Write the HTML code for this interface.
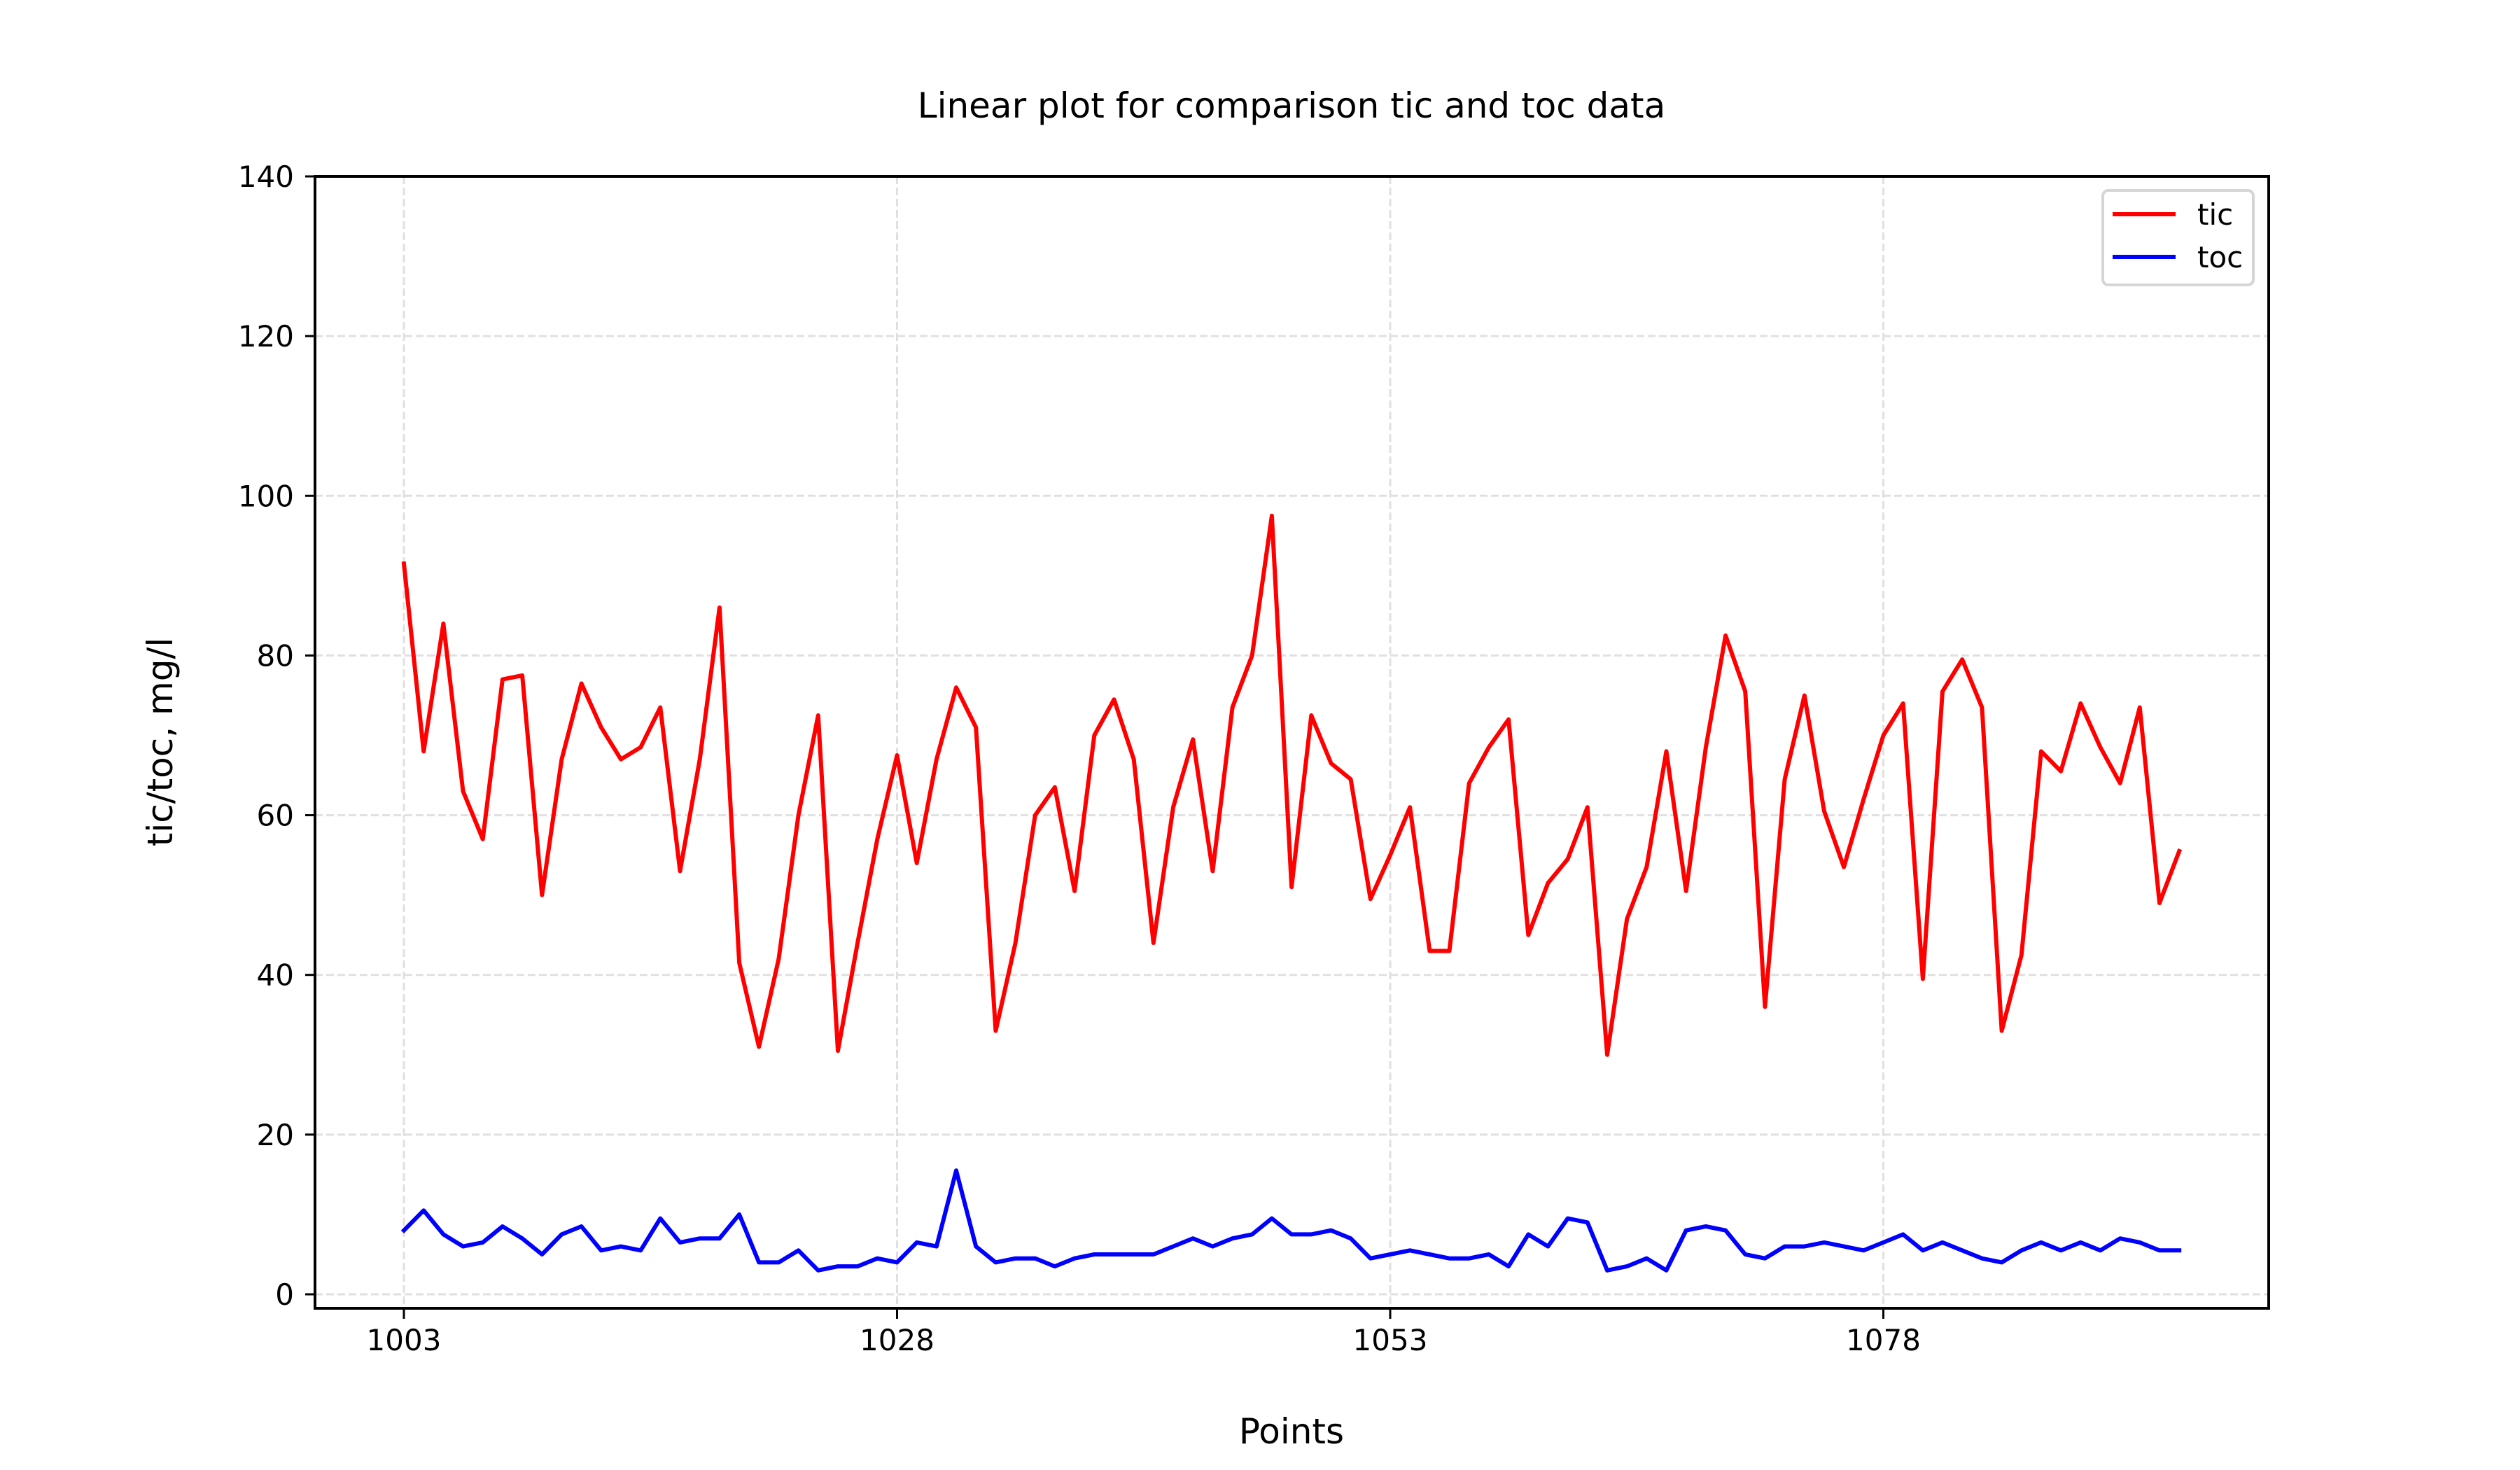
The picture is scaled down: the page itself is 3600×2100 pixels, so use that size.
<!DOCTYPE html>
<html><head><meta charset="utf-8"><style>
html,body{margin:0;padding:0;background:#fff}
svg{display:block;font-family:"DejaVu Sans","Liberation Sans",sans-serif}
</style></head><body>
<svg id="chart" width="3600" height="2100" viewBox="0 0 3600 2100">
<rect width="3600" height="2100" fill="#fff"/>
<text x="1845" y="168" font-size="50" text-anchor="middle">Linear plot for comparison tic and toc data</text>
<g id="grid"></g>
<g id="ticks"></g>
<g id="series"></g>
<rect x="450" y="252" width="2791" height="1617" fill="none" stroke="#000" stroke-width="4"/>
<text x="1845" y="2062" font-size="50" text-anchor="middle">Points</text>
<text transform="translate(246,1060) rotate(-90)" font-size="50" text-anchor="middle">tic/toc, mg/l</text>
<g>
<rect x="3004" y="272" width="215" height="135" rx="8" fill="#fff" fill-opacity="0.8" stroke="#d5d5d5" stroke-width="4"/>
<line x1="3018" y1="306" x2="3108" y2="306" stroke="#ff0000" stroke-width="6"/>
<text x="3139" y="321" font-size="42">tic</text>
<line x1="3018" y1="367" x2="3108" y2="367" stroke="#0000ff" stroke-width="6"/>
<text x="3139" y="382" font-size="42">toc</text>
</g>
</svg>
<script>
const startPoint = 1003;
const xTickValues = [1003, 1028, 1053, 1078];
const yTickValues = [0, 20, 40, 60, 80, 100, 120, 140];
const ticValues = [91.5,68,84,63,57,77,77.5,50,67,76.5,71,67,68.5,73.5,53,67,86,41.5,31,42,60,72.5,30.5,44,57,67.5,54,67,76,71,33,44,60,63.5,50.5,70,74.5,67,44,61,69.5,53,73.5,80,97.5,51,72.5,66.5,64.5,49.5,55,61,43,43,64,68.5,72,45,51.5,54.5,61,30,47,53.5,68,50.5,68.5,82.5,75.5,36,64.5,75,60.5,53.5,62,70,74,39.5,75.5,79.5,73.5,33,42.5,68,65.5,74,68.5,64,73.5,49,55.5];
const tocValues = [8,10.5,7.5,6,6.5,8.5,7,5,7.5,8.5,5.5,6,5.5,9.5,6.5,7,7,10,4,4,5.5,3,3.5,3.5,4.5,4,6.5,6,15.5,6,4,4.5,4.5,3.5,4.5,5,5,5,5,6,7,6,7,7.5,9.5,7.5,7.5,8,7,4.5,5,5.5,5,4.5,4.5,5,3.5,7.5,6,9.5,9,3,3.5,4.5,3,8,8.5,8,5,4.5,6,6,6.5,6,5.5,6.5,7.5,5.5,6.5,5.5,4.5,4,5.5,6.5,5.5,6.5,5.5,7,6.5,5.5,5.5];
const NS='http://www.w3.org/2000/svg';
function xs(v){return 577+(v-1003)*28.18;}
function ys(v){return 1849-v*(1849-252)/140;}
function mk(tag,attrs,parent){const e=document.createElementNS(NS,tag);for(const k in attrs)e.setAttribute(k,attrs[k]);parent.appendChild(e);return e;}
const grid=document.getElementById('grid'),ticks=document.getElementById('ticks'),series=document.getElementById('series');
xTickValues.forEach(v=>{
  const x=xs(v);
  const g=mk('line',{x1:x,y1:252,x2:x,y2:1869,stroke:'#e0e0e0','stroke-width':3,'stroke-dasharray':'11 5'},grid);
  
  
  const t=mk('line',{x1:x,y1:1869,x2:x,y2:1884,stroke:'#000','stroke-width':3},ticks);
  
  
  const l=mk('text',{x:x,y:1929,'font-size':42,'text-anchor':'middle'},ticks);
  l.textContent=v;
  
  
});
yTickValues.forEach(v=>{
  const y=ys(v);
  const g=mk('line',{x1:450,y1:y,x2:3241,y2:y,stroke:'#e0e0e0','stroke-width':3,'stroke-dasharray':'11 5'},grid);
  
  
  const t=mk('line',{x1:436,y1:y,x2:450,y2:y,stroke:'#000','stroke-width':3},ticks);
  
  
  const l=mk('text',{x:420,y:y+15,'font-size':42,'text-anchor':'end'},ticks);
  l.textContent=v;
  
  
});
function drawLine(vals,color,name){
  const pts=vals.map((v,i)=>xs(startPoint+i).toFixed(1)+','+ys(v).toFixed(1)).join(' ');
  const p=mk('polyline',{points:pts,fill:'none',stroke:color,'stroke-width':6,'stroke-linejoin':'round','stroke-linecap':'square'},series);
  
  
}
drawLine(ticValues,'#ff0000','tic-line');
drawLine(tocValues,'#0000ff','toc-line');
</script>
</body></html>
